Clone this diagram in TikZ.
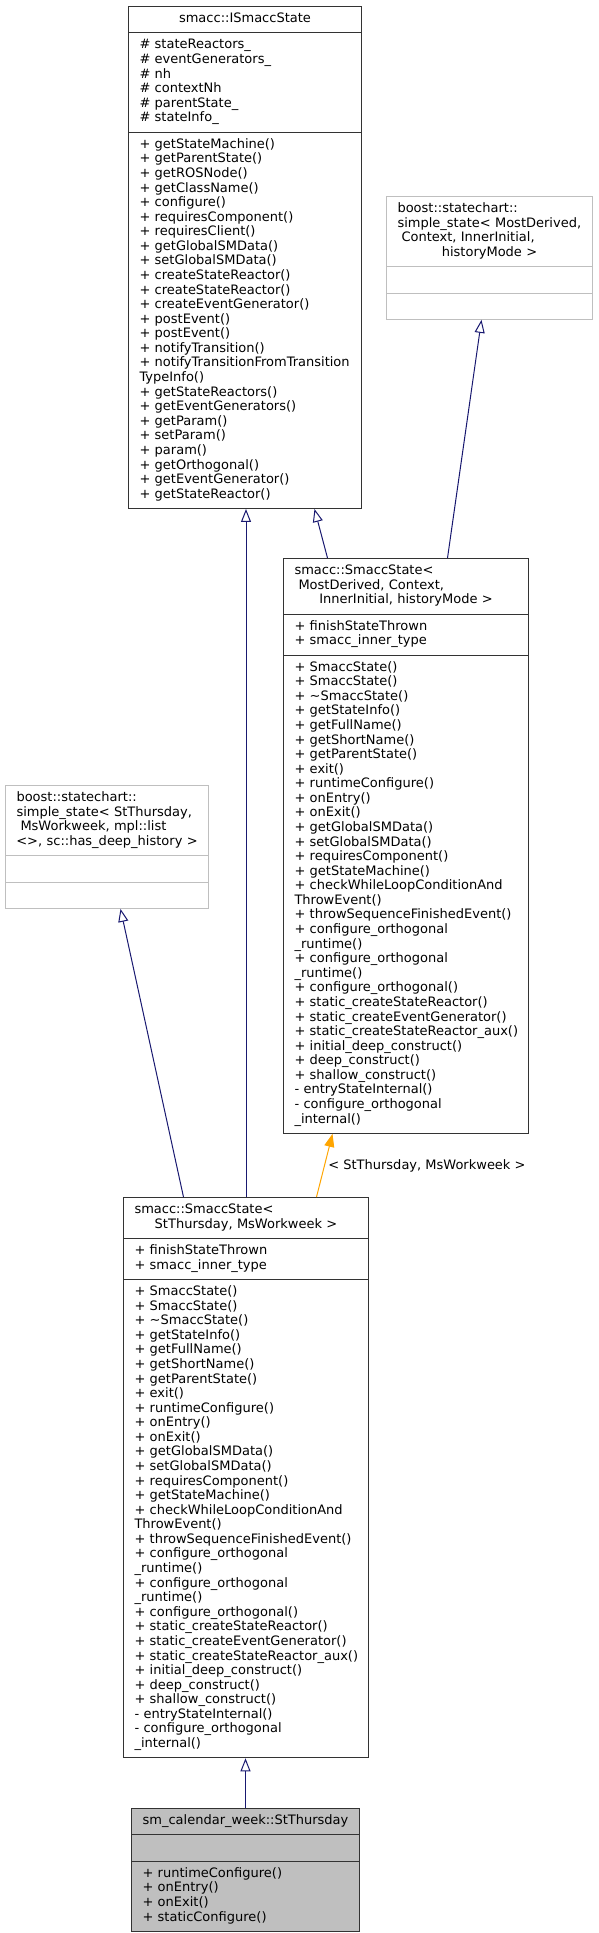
\documentclass[tikz,border=0pt]{standalone}
\usepackage{fontspec}
\setmainfont{DejaVu Sans}
\usetikzlibrary{arrows.meta,shapes.multipart}
\definecolor{inhblue}{HTML}{191970}
\definecolor{tmplorange}{HTML}{FFA500}
\definecolor{extgray}{HTML}{BFBFBF}
\newcommand{\smaccstatemethods}{+~SmaccState()\\+~SmaccState()\\+~\textasciitilde SmaccState()\\+~getStateInfo()\\+~getFullName()\\+~getShortName()\\+~getParentState()\\+~exit()\\+~runtimeConfigure()\\+~onEntry()\\+~onExit()\\+~getGlobalSMData()\\+~setGlobalSMData()\\+~requiresComponent()\\+~getStateMachine()\\+~checkWhileLoopConditionAnd\\ThrowEvent()\\+~throwSequenceFinishedEvent()\\+~configure\_orthogonal\\\_runtime()\\+~configure\_orthogonal\\\_runtime()\\+~configure\_orthogonal()\\+~static\_createStateReactor()\\+~static\_createEventGenerator()\\+~static\_createStateReactor\_aux()\\+~initial\_deep\_construct()\\+~deep\_construct()\\+~shallow\_construct()\\-~entryStateInternal()\\-~configure\_orthogonal\\\_internal()}

\begin{document}
\begin{tikzpicture}[x=1pt,y=-1pt,cls/.style={rectangle split,rectangle split parts=3,draw=black!80,line width=1pt,fill=white,inner xsep=11pt,inner ysep=5.4pt,align=left,anchor=north west,font=\fontsize{13}{14.58}\selectfont,execute at begin node=\strut,execute at end node=\strut},ext/.style={cls,draw=extgray},inh/.style={draw=inhblue,line width=1pt,-{Triangle[open,length=13pt,width=10pt]}},tmpl/.style={draw=tmplorange,line width=1pt,-{Triangle[length=13pt,width=10pt,fill=tmplorange]}}]
\useasboundingbox (0,0) rectangle (598,1933);
\node[cls,text width=211pt] (isms) at (128,6) {\makebox[\linewidth][c]{smacc::ISmaccState}\nodepart{two}\#~stateReactors\_\\\#~eventGenerators\_\\\#~nh\\\#~contextNh\\\#~parentState\_\\\#~stateInfo\_\nodepart{three}+~getStateMachine()\\+~getParentState()\\+~getROSNode()\\+~getClassName()\\+~configure()\\+~requiresComponent()\\+~requiresClient()\\+~getGlobalSMData()\\+~setGlobalSMData()\\+~createStateReactor()\\+~createStateReactor()\\+~createEventGenerator()\\+~postEvent()\\+~postEvent()\\+~notifyTransition()\\+~notifyTransitionFromTransition\\TypeInfo()\\+~getStateReactors()\\+~getEventGenerators()\\+~getParam()\\+~setParam()\\+~param()\\+~getOrthogonal()\\+~getEventGenerator()\\+~getStateReactor()};
\node[ext,text width=184pt] (ssgen) at (386,196) {boost::statechart::\\simple\_state<~MostDerived,\\\hspace*{4pt}Context,~InnerInitial,\\\makebox[\linewidth][c]{historyMode~>}\nodepart{two}\nodepart{three}};
\node[cls,text width=223pt] (smgen) at (283,558) {smacc::SmaccState<\\\hspace*{4pt}MostDerived,~Context,\\\makebox[\linewidth][c]{InnerInitial,~historyMode~>}\nodepart{two}+~finishStateThrown\\+~smacc\_inner\_type\nodepart{three}\smaccstatemethods};
\node[ext,text width=181pt] (ssthu) at (5,785) {boost::statechart::\\simple\_state<~StThursday,\\\hspace*{4pt}MsWorkweek,~mpl::list\\\makebox[\linewidth][c]{<>,~sc::has\_deep\_history~>}\nodepart{two}\nodepart{three}};
\node[cls,text width=223pt] (smthu) at (123,1197) {smacc::SmaccState<\\\makebox[\linewidth][c]{StThursday,~MsWorkweek~>}\nodepart{two}+~finishStateThrown\\+~smacc\_inner\_type\nodepart{three}\smaccstatemethods};
\node[cls,fill=extgray,text width=206pt] (stthu) at (131,1808) {\makebox[\linewidth][c]{sm\_calendar\_week::StThursday}\nodepart{two}\nodepart{three}+~runtimeConfigure()\\+~onEntry()\\+~onExit()\\+~staticConfigure()};
\draw[inh] ([xshift=-78.5pt]smgen.north) -- ([xshift=69.5pt]isms.south);
\draw[inh] ([xshift=41.5pt]smgen.north) -- ([xshift=-8pt]ssgen.south);
\draw[inh] (smthu.north) -- (smthu.north |- isms.south);
\draw[inh] ([xshift=-62.5pt]smthu.north) -- ([xshift=13.5pt]ssthu.south);
\draw[tmpl] ([xshift=70.5pt]smthu.north) -- node[midway,right,font=\fontsize{13}{14.58}\selectfont] (tplarg) {<~StThursday,~MsWorkweek~>} ([xshift=-73.5pt]smgen.south);
\draw[inh] (stthu.north) -- (stthu.north |- smthu.south);
\end{tikzpicture}
\end{document}
